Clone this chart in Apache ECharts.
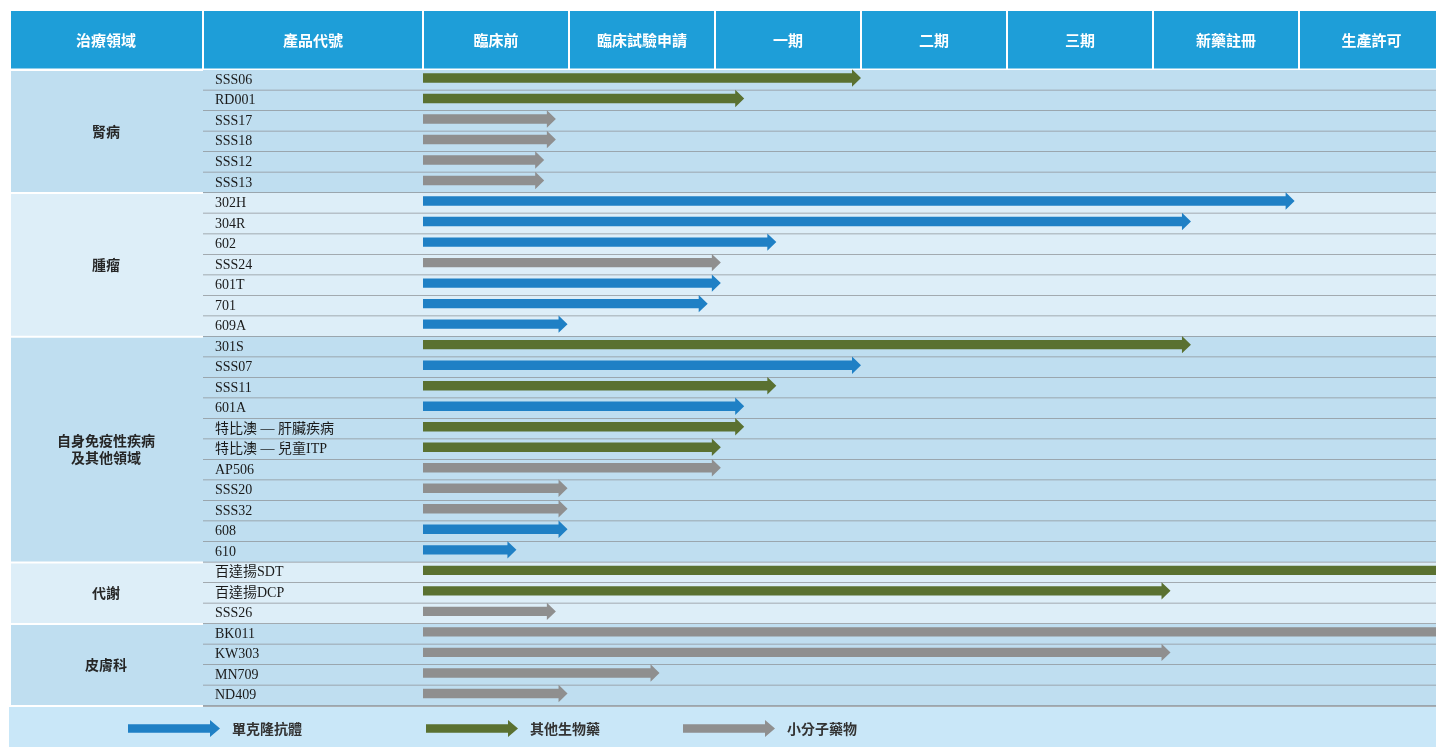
<!DOCTYPE html>
<html><head><meta charset="utf-8">
<script src="https://cdn.jsdelivr.net/npm/echarts@6/dist/echarts.min.js"></script>
<style>html,body{margin:0;padding:0;background:#fff}#c{width:1436px;height:747px}</style>
</head><body><div id="c"></div>
<script>
// ---------- data ----------
const phases = ['臨床前', '臨床試驗申請', '一期', '二期', '三期', '新藥註冊', '生產許可'];
const headerLeft = ['治療領域', '產品代號'];
const areas = ['腎病', '腫瘤', '自身免疫性疾病\n及其他領域', '代謝', '皮膚科'];
const areaSizes = [6, 7, 11, 3, 4];
const products = ['SSS06', 'RD001', 'SSS17', 'SSS18', 'SSS12', 'SSS13',
  '302H', '304R', '602', 'SSS24', '601T', '701', '609A',
  '301S', 'SSS07', 'SSS11', '601A', '特比澳 — 肝臟疾病', '特比澳 — 兒童ITP', 'AP506', 'SSS20', 'SSS32', '608', '610',
  '百達揚SDT', '百達揚DCP', 'SSS26',
  'BK011', 'KW303', 'MN709', 'ND409'];
// progress measured in phase units from the start of 臨床前
const progress = [3.0, 2.2, 0.91, 0.91, 0.83, 0.83,
  5.97, 5.26, 2.42, 2.04, 2.04, 1.95, 0.99,
  5.26, 3.0, 2.42, 2.2, 2.2, 2.04, 2.04, 0.99, 0.99, 0.99, 0.64,
  7.0, 5.12, 0.91,
  7.0, 5.12, 1.62, 0.99];
const modality = ['bio', 'bio', 'sm', 'sm', 'sm', 'sm',
  'mab', 'mab', 'mab', 'sm', 'mab', 'mab', 'mab',
  'bio', 'mab', 'bio', 'mab', 'bio', 'bio', 'sm', 'sm', 'sm', 'mab', 'mab',
  'bio', 'bio', 'sm',
  'sm', 'sm', 'sm', 'sm'];
const modalityKeys = ['mab', 'bio', 'sm'];
const modalityNames = ['單克隆抗體', '其他生物藥', '小分子藥物'];

// ---------- styles ----------
const colors = { mab: '#1F80C5', bio: '#5A7131', sm: '#8F8F8F' };
const groupBg = ['#BFDEF0', '#DDEEF8'];
const W = 1436, H = 747;
const COL1_X = 11, COL2_X = 203, HEADER_TOP = 11, HEADER_BOTTOM = 68.5;

const rowGroup = [];
areaSizes.forEach((n, g) => { for (let k = 0; k < n; k++) rowGroup.push(g); });
const groupStart = [];
areaSizes.reduce((acc, n) => { groupStart.push(acc); return acc + n; }, 0);

const arrowPath = 'path://M0,4.2 L82,4.2 L82,0 L92,8.5 L82,17 L82,12.8 L0,12.8 Z';

function arrowItem(params, api) {
  const idx = api.value(1), v = api.value(0);
  const s = api.coord([0, idx]);
  const e = api.coord([v, idx]);
  const cy = s[1] - 2.3, hl = 9, sh = 4.7, hh = 8.7;
  const x0 = s[0], x1 = e[0];
  return {
    type: 'polygon',
    shape: { points: [[x0, cy - sh], [x1 - hl, cy - sh], [x1 - hl, cy - hh], [x1, cy], [x1 - hl, cy + hh], [x1 - hl, cy + sh], [x0, cy + sh]] },
    style: { fill: api.visual('color') }
  };
}

const arrowSeries = modalityKeys.map((k, mi) => ({
  name: modalityNames[mi],
  type: 'custom',
  z: 5,
  clip: false,
  itemStyle: { color: colors[k] },
  encode: { x: 0, y: 1 },
  renderItem: arrowItem,
  data: products.map((p, i) => [progress[i], i]).filter((d, i) => modality[i] === k)
}));

const tableSeries = {
  type: 'custom', z: 1, silent: true, clip: false,
  encode: { x: 0, y: 1 },
  data: products.map((p, i) => [0, i]),
  renderItem(params, api) {
    const i = api.value(1);
    const c = api.coord([0, i]);
    const h = api.size([0, 1])[1];
    const top = c[1] - h / 2, bot = c[1] + h / 2;
    return {
      type: 'group', children: [
        { type: 'rect', shape: { x: COL2_X, y: top, width: W - COL2_X, height: h }, style: { fill: groupBg[rowGroup[i] % 2] } },
        { type: 'line', shape: { x1: COL2_X, y1: bot, x2: W, y2: bot }, style: { stroke: '#8E9398', lineWidth: 1.5 } }
      ]
    };
  }
};

const areaSeries = {
  type: 'custom', z: 2, silent: true, clip: false,
  encode: { x: 0, y: 1 },
  data: areas.map((a, g) => [0, groupStart[g], groupStart[g] + areaSizes[g] - 1, g]),
  renderItem(params, api) {
    const g = api.value(3);
    const h = api.size([0, 1])[1];
    const top = api.coord([0, api.value(1)])[1] - h / 2;
    const bot = api.coord([0, api.value(2)])[1] + h / 2;
    return {
      type: 'group', children: [
        { type: 'rect', shape: { x: COL1_X, y: top + 1, width: COL2_X - COL1_X, height: bot - top - 2 }, style: { fill: groupBg[g % 2] } },
        { type: 'text', style: { text: areas[g], x: (COL1_X + COL2_X) / 2 - 1, y: (top + bot) / 2, align: 'center', verticalAlign: 'middle', fill: '#262626', font: 'bold 14px "Noto Sans CJK TC"', lineHeight: 17 } }
      ]
    };
  }
};

const headerSeries = {
  type: 'custom', z: 3, silent: true, clip: false,
  encode: { x: 0, y: 1 },
  data: phases.map((p, i) => [i, 0]),
  renderItem(params, api) {
    const i = api.value(0);
    const x0 = api.coord([i, 0])[0], x1 = api.coord([i + 1, 0])[0];
    return {
      type: 'group', children: [
        { type: 'rect', shape: { x: x0 + 1, y: HEADER_TOP, width: x1 - x0 - 2, height: HEADER_BOTTOM - HEADER_TOP }, style: { fill: '#1E9ED8' } },
        { type: 'text', style: { text: phases[i], x: Math.min((x0 + x1) / 2, (x0 + W) / 2 + 4), y: (HEADER_TOP + HEADER_BOTTOM) / 2 + 1, align: 'center', verticalAlign: 'middle', fill: '#fff', font: 'bold 15px "Noto Sans CJK TC"' } }
      ]
    };
  }
};

const chart = echarts.init(document.getElementById('c'), null, { renderer: 'canvas' });
chart.setOption({
  animation: false,
  backgroundColor: '#fff',
  grid: { left: 423, width: 146 * 7, top: 70, bottom: H - 706, outerBoundsMode: 'none', containLabel: false },
  xAxis: { type: 'value', min: 0, max: 7, show: false },
  yAxis: {
    type: 'category', inverse: true, data: products, z: 20,
    axisLine: { show: false }, axisTick: { show: false }, splitLine: { show: false },
    axisLabel: { interval: 0, align: 'left', margin: 208, color: '#1a1a1a', fontSize: 14, padding: [3, 0, 0, 0], fontFamily: '"Liberation Serif", "Noto Sans CJK TC"' }
  },
  legend: modalityNames.map((n, i) => ({
    data: [n], left: [128, 426, 683][i], top: 720, padding: 0, selectedMode: false,
    icon: arrowPath, itemWidth: 92, itemHeight: 17,
    textStyle: { fontSize: 14, fontWeight: 'bold', color: '#333', fontFamily: '"Noto Sans CJK TC"', padding: [0, 0, 0, 7] }
  })),
  graphic: [
    { type: 'rect', z: -1, shape: { x: 9, y: 707, width: W - 9, height: H - 707 }, style: { fill: '#C9E7F8' } },
    { type: 'rect', shape: { x: COL1_X, y: HEADER_TOP, width: COL2_X - COL1_X - 1, height: HEADER_BOTTOM - HEADER_TOP }, style: { fill: '#1E9ED8' } },
    { type: 'text', style: { text: headerLeft[0], x: (COL1_X + COL2_X) / 2 - 1, y: (HEADER_TOP + HEADER_BOTTOM) / 2 + 1, align: 'center', verticalAlign: 'middle', fill: '#fff', font: 'bold 15px "Noto Sans CJK TC"' } },
    { type: 'rect', shape: { x: COL2_X + 1, y: HEADER_TOP, width: 423 - COL2_X - 2, height: HEADER_BOTTOM - HEADER_TOP }, style: { fill: '#1E9ED8' } },
    { type: 'text', style: { text: headerLeft[1], x: (COL2_X + 423) / 2, y: (HEADER_TOP + HEADER_BOTTOM) / 2 + 1, align: 'center', verticalAlign: 'middle', fill: '#fff', font: 'bold 15px "Noto Sans CJK TC"' } }
  ],
  series: [tableSeries, areaSeries, headerSeries, ...arrowSeries]
});
</script></body></html>
